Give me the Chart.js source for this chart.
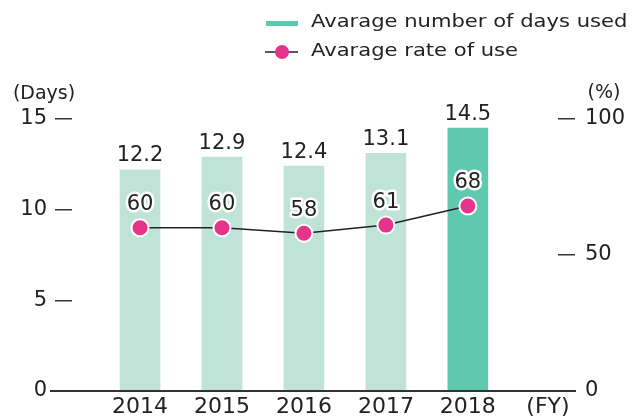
<!DOCTYPE html>
<html>
<head>
<meta charset="utf-8">
<script src="https://cdn.jsdelivr.net/npm/chart.js@4/dist/chart.umd.min.js"></script>
<style>
  html, body { margin: 0; padding: 0; background: #fff; }
  #wrap { width: 632px; height: 418px; }
</style>
</head>
<body>
<div id="wrap"><canvas id="c" width="632" height="418"></canvas></div>
<script>
// ---- data ----
const categories = ['2014', '2015', '2016', '2017', '2018'];
const daysUsed = [12.2, 12.9, 12.4, 13.1, 14.5];
const useRate = [60, 60, 58, 61, 68];
const daysTicks = [0, 5, 10, 15];
const rateTicks = [0, 50, 100];
const seriesNames = ['Avarage number of days used', 'Avarage rate of use'];
const leftUnit = '(Days)';
const rightUnit = '(%)';
const xUnit = '(FY)';

// ---- styles ----
const FONT = '"DejaVu Sans", "Liberation Sans", sans-serif';
const TEXT = '#222';
const LIGHT = '#c0e3d7';
const DARK = '#5fc9b0';
const PINK = '#e6338b';
const barColors = categories.map((c, i) => i === categories.length - 1 ? DARK : LIGHT);

const deco = {
  id: 'deco',
  afterDatasetsDraw(chart) {
    const ctx = chart.ctx;
    ctx.save();
    ctx.font = '21px ' + FONT;
    ctx.textAlign = 'center';
    ctx.textBaseline = 'middle';
    ctx.lineJoin = 'round';
    const barMeta = chart.getDatasetMeta(0);
    barMeta.data.forEach((el, i) => {
      ctx.fillStyle = TEXT;
      ctx.fillText(daysUsed[i].toFixed(1), el.x, el.y - 14);
    });
    const lineMeta = chart.getDatasetMeta(1);
    lineMeta.data.forEach((el, i) => {
      const t = String(useRate[i]);
      ctx.strokeStyle = '#fff';
      ctx.lineWidth = 5;
      ctx.strokeText(t, el.x, el.y - 23);
      ctx.fillStyle = TEXT;
      ctx.fillText(t, el.x, el.y - 23);
    });
    ctx.restore();
  },
  afterDraw(chart) {
    const ctx = chart.ctx;
    const y0 = chart.scales.y.getPixelForValue(0);
    ctx.save();
    // baseline
    ctx.strokeStyle = '#333';
    ctx.lineWidth = 2;
    ctx.beginPath();
    ctx.moveTo(50, y0);
    ctx.lineTo(576, y0);
    ctx.stroke();
    // unit labels
    ctx.fillStyle = TEXT;
    ctx.textBaseline = 'middle';
    ctx.font = '19px ' + FONT;
    ctx.textAlign = 'center';
    ctx.fillText(leftUnit, 44, 94);
    ctx.fillText(rightUnit, 604, 93);
    ctx.font = '22px ' + FONT;
    ctx.fillText(xUnit, 548, 407);
    // legend
    ctx.fillStyle = DARK;
    ctx.fillRect(266, 21, 32, 5);
    ctx.strokeStyle = '#222';
    ctx.lineWidth = 1.5;
    ctx.beginPath();
    ctx.moveTo(265, 52);
    ctx.lineTo(298, 52);
    ctx.stroke();
    ctx.beginPath();
    ctx.arc(282, 52, 7, 0, Math.PI * 2);
    ctx.fillStyle = PINK;
    ctx.fill();
    ctx.font = '17px ' + FONT;
    ctx.textAlign = 'left';
    ctx.fillStyle = TEXT;
    [[seriesNames[0], 23], [seriesNames[1], 52]].forEach(([t, y]) => {
      ctx.save();
      ctx.translate(311, y);
      ctx.scale(1.24, 1);
      ctx.fillText(t, 0, 0);
      ctx.restore();
    });
    ctx.restore();
  }
};

new Chart(document.getElementById('c'), {
  data: {
    datasets: [
      {
        type: 'bar',
        label: seriesNames[0],
        data: categories.map((c, i) => ({ x: Number(c), y: daysUsed[i] })),
        backgroundColor: barColors,
        borderWidth: 0,
        barThickness: 40,
        yAxisID: 'y',
        order: 2
      },
      {
        type: 'line',
        label: seriesNames[1],
        data: categories.map((c, i) => ({ x: Number(c), y: useRate[i] })),
        borderColor: '#222',
        borderWidth: 1.5,
        pointRadius: 8.5,
        pointBackgroundColor: PINK,
        pointBorderColor: '#fff',
        pointBorderWidth: 2,
        tension: 0,
        yAxisID: 'y2',
        order: 1
      }
    ]
  },
  options: {
    responsive: false,
    devicePixelRatio: 1,
    animation: false,
    layout: { padding: { top: 119, left: 0, right: 0, bottom: 0 } },
    plugins: { legend: { display: false }, tooltip: { enabled: false } },
    scales: {
      x: {
        type: 'linear',
        offset: false,
        min: Number(categories[0]) - 0.83,
        max: Number(categories[categories.length - 1]) + 1.1,
        afterBuildTicks: (s) => { s.ticks = categories.map(c => ({ value: Number(c) })); },
        afterFit: (s) => { s.height = 27; },
        grid: { display: false, drawTicks: false, offset: false },
        border: { display: false },
        ticks: {
          autoSkip: false,
          maxRotation: 0,
          padding: 3,
          color: TEXT,
          font: { family: FONT, size: 22 },
          callback: (v) => String(v)
        }
      },
      y: {
        position: 'left',
        min: daysTicks[0],
        max: daysTicks[daysTicks.length - 1],
        afterBuildTicks: (s) => { s.ticks = daysTicks.map(v => ({ value: v })); },
        afterFit: (s) => { s.width = 72; },
        grid: { display: true, drawOnChartArea: false, drawTicks: true, tickLength: 17, tickColor: '#333', lineWidth: 1.5 },
        border: { display: false },
        ticks: { padding: 8, color: TEXT, font: { family: FONT, size: 21 } }
      },
      y2: {
        position: 'right',
        min: rateTicks[0],
        max: rateTicks[rateTicks.length - 1],
        afterBuildTicks: (s) => { s.ticks = rateTicks.map(v => ({ value: v })); },
        afterFit: (s) => { s.width = 74; },
        grid: { display: true, drawOnChartArea: false, drawTicks: true, tickLength: 17, tickColor: '#333', lineWidth: 1.5 },
        border: { display: false },
        ticks: { padding: 10, color: TEXT, font: { family: FONT, size: 21 } }
      }
    }
  },
  plugins: [deco]
});
</script>
</body>
</html>
